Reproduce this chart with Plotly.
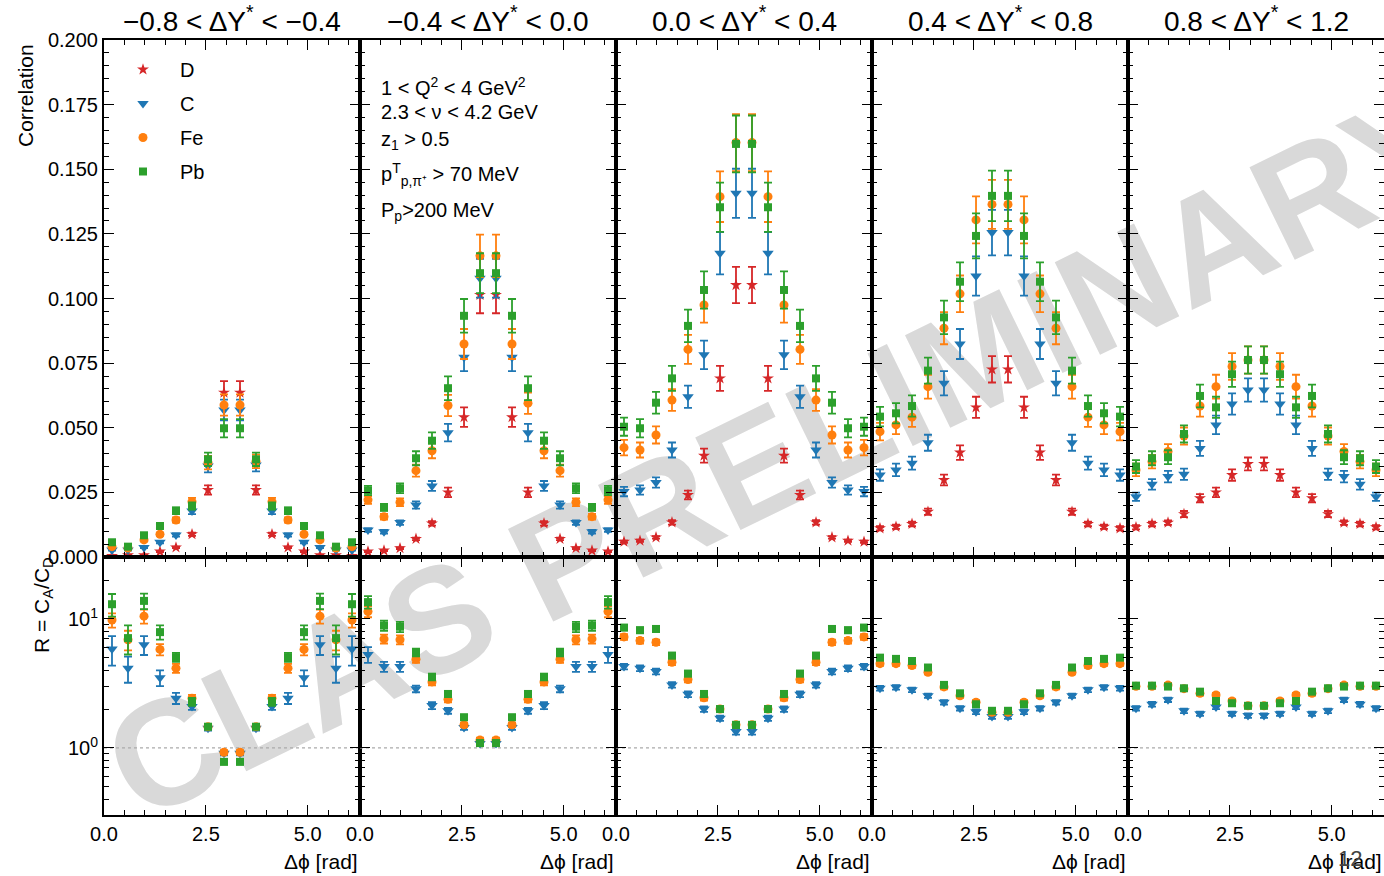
import plotly.graph_objects as go
from plotly.subplots import make_subplots

# ---------------- data ----------------
# bin centres of delta-phi (16 bins over 0..2pi)
PHI = [0.196, 0.589, 0.982, 1.374, 1.767, 2.160, 2.553, 2.945,
       3.338, 3.731, 4.123, 4.516, 4.909, 5.301, 5.694, 6.087]

DY_TITLES = ["−0.8 < ΔY<sup>*</sup> < −0.4", "−0.4 < ΔY<sup>*</sup> < 0.0",
             "0.0 < ΔY<sup>*</sup> < 0.4", "0.4 < ΔY<sup>*</sup> < 0.8",
             "0.8 < ΔY<sup>*</sup> < 1.2"]

SERIES = ["D", "C", "Fe", "Pb"]

# ---- correlation, column 1 ----
corr_D_1 = [0.0004, 0.0007, 0.0007, 0.0021, 0.0037, 0.0088, 0.0259, 0.0636, 0.0636, 0.0259, 0.0088, 0.0037, 0.0021, 0.0007, 0.0007, 0.0004]
corr_C_1 = [0.0027, 0.0027, 0.0037, 0.0057, 0.0085, 0.0178, 0.0352, 0.0569, 0.0569, 0.0356, 0.0178, 0.0085, 0.0057, 0.0037, 0.0027, 0.0027]
corr_Fe_1 = [0.0040, 0.0035, 0.0066, 0.0088, 0.0143, 0.0214, 0.0365, 0.0588, 0.0588, 0.0370, 0.0214, 0.0143, 0.0088, 0.0066, 0.0035, 0.0040]
corr_Pb_1 = [0.0057, 0.0040, 0.0084, 0.0120, 0.0179, 0.0197, 0.0378, 0.0498, 0.0498, 0.0378, 0.0197, 0.0179, 0.0120, 0.0084, 0.0040, 0.0057]
err_D_1 = [0.0001, 0.0001, 0.0001, 0.0002, 0.0003, 0.0006, 0.0018, 0.0044, 0.0044, 0.0018, 0.0006, 0.0003, 0.0002, 0.0001, 0.0001, 0.0001]
err_C_1 = [0.0002, 0.0002, 0.0003, 0.0004, 0.0006, 0.0012, 0.0025, 0.0040, 0.0040, 0.0025, 0.0012, 0.0006, 0.0004, 0.0003, 0.0002, 0.0002]
err_Fe_1 = [0.0003, 0.0003, 0.0005, 0.0006, 0.0010, 0.0015, 0.0026, 0.0041, 0.0041, 0.0026, 0.0015, 0.0010, 0.0006, 0.0005, 0.0003, 0.0003]
err_Pb_1 = [0.0004, 0.0003, 0.0006, 0.0008, 0.0013, 0.0014, 0.0026, 0.0035, 0.0035, 0.0026, 0.0014, 0.0013, 0.0008, 0.0006, 0.0003, 0.0004]

# ---- correlation, column 2 ----
corr_D_2 = [0.0021, 0.0025, 0.0034, 0.0070, 0.0130, 0.0250, 0.0541, 0.1014, 0.1014, 0.0541, 0.0250, 0.0130, 0.0070, 0.0034, 0.0025, 0.0021]
corr_C_2 = [0.0104, 0.0098, 0.0133, 0.0201, 0.0275, 0.0481, 0.0773, 0.1078, 0.1078, 0.0773, 0.0481, 0.0275, 0.0201, 0.0133, 0.0098, 0.0104]
corr_Fe_2 = [0.0221, 0.0156, 0.0212, 0.0334, 0.0411, 0.0586, 0.0824, 0.1165, 0.1165, 0.0824, 0.0595, 0.0411, 0.0334, 0.0212, 0.0156, 0.0221]
corr_Pb_2 = [0.0257, 0.0192, 0.0266, 0.0382, 0.0450, 0.0653, 0.0933, 0.1098, 0.1098, 0.0933, 0.0653, 0.0450, 0.0382, 0.0266, 0.0192, 0.0257]
err_D_2 = [0.0002, 0.0002, 0.0003, 0.0005, 0.0009, 0.0018, 0.0038, 0.0071, 0.0071, 0.0038, 0.0018, 0.0009, 0.0005, 0.0003, 0.0002, 0.0002]
err_C_2 = [0.0007, 0.0007, 0.0009, 0.0014, 0.0019, 0.0034, 0.0054, 0.0075, 0.0075, 0.0054, 0.0034, 0.0019, 0.0014, 0.0009, 0.0007, 0.0007]
err_Fe_2 = [0.0015, 0.0011, 0.0015, 0.0023, 0.0029, 0.0041, 0.0058, 0.0082, 0.0082, 0.0058, 0.0041, 0.0029, 0.0023, 0.0015, 0.0011, 0.0015]
err_Pb_2 = [0.0018, 0.0013, 0.0019, 0.0027, 0.0032, 0.0046, 0.0065, 0.0077, 0.0077, 0.0065, 0.0046, 0.0032, 0.0027, 0.0019, 0.0013, 0.0018]

# ---- correlation, column 3 ----
corr_D_3 = [0.0059, 0.0063, 0.0076, 0.0134, 0.0240, 0.0392, 0.0691, 0.1052, 0.1052, 0.0691, 0.0392, 0.0240, 0.0134, 0.0076, 0.0063, 0.0059]
corr_C_3 = [0.0253, 0.0259, 0.0288, 0.0414, 0.0620, 0.0782, 0.1175, 0.1407, 0.1407, 0.1175, 0.0782, 0.0620, 0.0414, 0.0288, 0.0259, 0.0253]
corr_Fe_3 = [0.0423, 0.0414, 0.0472, 0.0607, 0.0803, 0.0975, 0.1394, 0.1603, 0.1603, 0.1394, 0.0975, 0.0803, 0.0607, 0.0472, 0.0414, 0.0423]
corr_Pb_3 = [0.0504, 0.0498, 0.0597, 0.0691, 0.0894, 0.1033, 0.1353, 0.1598, 0.1598, 0.1353, 0.1033, 0.0894, 0.0691, 0.0597, 0.0498, 0.0504]
err_D_3 = [0.0004, 0.0004, 0.0005, 0.0009, 0.0017, 0.0027, 0.0048, 0.0070, 0.0070, 0.0048, 0.0027, 0.0017, 0.0009, 0.0005, 0.0004, 0.0004]
err_C_3 = [0.0018, 0.0018, 0.0020, 0.0029, 0.0043, 0.0055, 0.0082, 0.0095, 0.0095, 0.0082, 0.0055, 0.0043, 0.0029, 0.0020, 0.0018, 0.0018]
err_Fe_3 = [0.0030, 0.0029, 0.0033, 0.0042, 0.0056, 0.0068, 0.0098, 0.0110, 0.0110, 0.0098, 0.0068, 0.0056, 0.0042, 0.0033, 0.0029, 0.0030]
err_Pb_3 = [0.0035, 0.0035, 0.0042, 0.0048, 0.0063, 0.0072, 0.0095, 0.0110, 0.0110, 0.0095, 0.0072, 0.0063, 0.0048, 0.0042, 0.0035, 0.0035]

# ---- correlation, column 4 ----
corr_D_4 = [0.0111, 0.0117, 0.0128, 0.0175, 0.0298, 0.0404, 0.0579, 0.0726, 0.0726, 0.0579, 0.0404, 0.0298, 0.0175, 0.0128, 0.0117, 0.0111]
corr_C_4 = [0.0317, 0.0337, 0.0363, 0.0442, 0.0672, 0.0824, 0.1087, 0.1255, 0.1255, 0.1087, 0.0824, 0.0672, 0.0442, 0.0363, 0.0337, 0.0317]
corr_Fe_4 = [0.0485, 0.0511, 0.0541, 0.0659, 0.0885, 0.1018, 0.1304, 0.1364, 0.1364, 0.1304, 0.1018, 0.0885, 0.0659, 0.0541, 0.0511, 0.0485]
corr_Pb_4 = [0.0543, 0.0556, 0.0584, 0.0721, 0.0927, 0.1065, 0.1242, 0.1397, 0.1397, 0.1242, 0.1065, 0.0927, 0.0721, 0.0584, 0.0556, 0.0543]
err_D_4 = [0.0008, 0.0008, 0.0009, 0.0012, 0.0021, 0.0028, 0.0041, 0.0051, 0.0051, 0.0041, 0.0028, 0.0021, 0.0012, 0.0009, 0.0008, 0.0008]
err_C_4 = [0.0022, 0.0024, 0.0025, 0.0031, 0.0047, 0.0058, 0.0076, 0.0088, 0.0088, 0.0076, 0.0058, 0.0047, 0.0031, 0.0025, 0.0024, 0.0022]
err_Fe_4 = [0.0034, 0.0036, 0.0038, 0.0046, 0.0062, 0.0071, 0.0091, 0.0095, 0.0095, 0.0091, 0.0071, 0.0062, 0.0046, 0.0038, 0.0036, 0.0034]
err_Pb_4 = [0.0038, 0.0039, 0.0041, 0.0050, 0.0065, 0.0075, 0.0087, 0.0098, 0.0098, 0.0087, 0.0075, 0.0065, 0.0050, 0.0041, 0.0039, 0.0038]

# ---- correlation, column 5 ----
corr_D_5 = [0.0115, 0.0128, 0.0133, 0.0166, 0.0227, 0.0250, 0.0317, 0.0360, 0.0360, 0.0317, 0.0250, 0.0227, 0.0166, 0.0133, 0.0128, 0.0115]
corr_C_5 = [0.0233, 0.0281, 0.0311, 0.0320, 0.0420, 0.0511, 0.0592, 0.0646, 0.0646, 0.0592, 0.0511, 0.0420, 0.0320, 0.0311, 0.0281, 0.0233]
corr_Fe_5 = [0.0337, 0.0369, 0.0408, 0.0468, 0.0584, 0.0659, 0.0737, 0.0762, 0.0762, 0.0737, 0.0659, 0.0584, 0.0468, 0.0408, 0.0369, 0.0337]
corr_Pb_5 = [0.0350, 0.0382, 0.0386, 0.0476, 0.0623, 0.0579, 0.0707, 0.0762, 0.0762, 0.0707, 0.0579, 0.0623, 0.0476, 0.0386, 0.0382, 0.0350]
err_D_5 = [0.0008, 0.0009, 0.0009, 0.0012, 0.0016, 0.0018, 0.0022, 0.0025, 0.0025, 0.0022, 0.0018, 0.0016, 0.0012, 0.0009, 0.0009, 0.0008]
err_C_5 = [0.0016, 0.0020, 0.0022, 0.0022, 0.0029, 0.0036, 0.0041, 0.0045, 0.0045, 0.0041, 0.0036, 0.0029, 0.0022, 0.0022, 0.0020, 0.0016]
err_Fe_5 = [0.0024, 0.0026, 0.0029, 0.0033, 0.0041, 0.0046, 0.0052, 0.0053, 0.0053, 0.0052, 0.0046, 0.0041, 0.0033, 0.0029, 0.0026, 0.0024]
err_Pb_5 = [0.0025, 0.0027, 0.0027, 0.0033, 0.0044, 0.0041, 0.0049, 0.0053, 0.0053, 0.0049, 0.0041, 0.0044, 0.0033, 0.0027, 0.0027, 0.0025]

# ---- ratio R = C_A / C_D ----
ratio_C_1 = [5.85, 4.15, 6.3, 3.5, 2.43, 2.09, 1.42, 0.91, 0.91, 1.42, 2.09, 2.43, 3.5, 6.3, 4.15, 5.85]
ratio_Fe_1 = [9.8, 6.9, 10.5, 5.8, 4.15, 2.43, 1.46, 0.925, 0.925, 1.46, 2.43, 4.15, 5.8, 10.5, 6.9, 9.8]
ratio_Pb_1 = [13.0, 7.1, 13.8, 7.9, 5.05, 2.28, 1.46, 0.78, 0.78, 1.46, 2.28, 5.05, 7.9, 13.8, 7.1, 13.0]
rerr_C_1 = [1.5, 0.95, 1.05, 0.49, 0.24, 0.12, 0.06, 0.035, 0.035, 0.06, 0.12, 0.24, 0.49, 1.05, 0.95, 1.5]
rerr_Fe_1 = [1.25, 1.2, 1.3, 0.58, 0.33, 0.15, 0.06, 0.035, 0.035, 0.06, 0.15, 0.33, 0.58, 1.3, 1.2, 1.25]
rerr_Pb_1 = [2.6, 1.8, 1.9, 1.0, 0.4, 0.16, 0.06, 0.035, 0.035, 0.06, 0.16, 0.4, 1.0, 1.9, 1.8, 2.6]

ratio_C_2 = [5.3, 4.27, 4.27, 2.87, 2.13, 1.94, 1.44, 1.08, 1.08, 1.44, 1.94, 2.13, 2.87, 4.27, 4.27, 5.3]
ratio_Fe_2 = [11.4, 7.0, 6.9, 4.87, 3.25, 2.38, 1.51, 1.15, 1.15, 1.51, 2.38, 3.25, 4.87, 6.9, 7.0, 11.4]
ratio_Pb_2 = [13.5, 8.9, 8.7, 5.5, 3.55, 2.62, 1.73, 1.09, 1.09, 1.73, 2.62, 3.55, 5.5, 8.7, 8.9, 13.5]
rerr_C_2 = [0.74, 0.38, 0.38, 0.17, 0.13, 0.1, 0.06, 0.04, 0.04, 0.06, 0.1, 0.13, 0.17, 0.38, 0.38, 0.74]
rerr_Fe_2 = [1.1, 0.55, 0.55, 0.3, 0.19, 0.12, 0.06, 0.05, 0.05, 0.06, 0.12, 0.19, 0.3, 0.55, 0.55, 1.1]
rerr_Pb_2 = [1.5, 0.8, 0.8, 0.38, 0.21, 0.13, 0.07, 0.05, 0.05, 0.07, 0.13, 0.21, 0.38, 0.8, 0.8, 1.5]

ratio_C_3 = [4.27, 4.15, 3.91, 3.08, 2.61, 2.0, 1.70, 1.34, 1.34, 1.70, 2.0, 2.61, 3.08, 3.91, 4.15, 4.27]
ratio_Fe_3 = [7.25, 6.79, 6.59, 4.61, 3.39, 2.45, 2.0, 1.51, 1.51, 2.0, 2.45, 3.39, 4.61, 6.59, 6.79, 7.25]
ratio_Pb_3 = [8.57, 8.17, 8.36, 5.2, 3.77, 2.62, 2.0, 1.51, 1.51, 2.0, 2.62, 3.77, 5.2, 8.36, 8.17, 8.57]
rerr_C_3 = [0.21, 0.21, 0.2, 0.15, 0.13, 0.1, 0.08, 0.07, 0.07, 0.08, 0.1, 0.13, 0.15, 0.2, 0.21, 0.21]
rerr_Fe_3 = [0.36, 0.34, 0.33, 0.23, 0.17, 0.12, 0.1, 0.08, 0.08, 0.1, 0.12, 0.17, 0.23, 0.33, 0.34, 0.36]
rerr_Pb_3 = [0.43, 0.41, 0.42, 0.26, 0.19, 0.13, 0.1, 0.08, 0.08, 0.1, 0.13, 0.19, 0.26, 0.42, 0.41, 0.43]

ratio_C_4 = [2.9, 2.95, 2.82, 2.54, 2.26, 2.03, 1.91, 1.75, 1.75, 1.91, 2.03, 2.26, 2.54, 2.82, 2.95, 2.9]
ratio_Fe_4 = [4.5, 4.5, 4.35, 3.86, 2.97, 2.54, 2.26, 1.89, 1.89, 2.26, 2.54, 2.97, 3.86, 4.35, 4.5, 4.5]
ratio_Pb_4 = [5.01, 4.9, 4.72, 4.2, 3.08, 2.65, 2.18, 1.94, 1.94, 2.18, 2.65, 3.08, 4.2, 4.72, 4.9, 5.01]
rerr_C_4 = [0.12, 0.12, 0.11, 0.1, 0.09, 0.08, 0.08, 0.07, 0.07, 0.08, 0.08, 0.09, 0.1, 0.11, 0.12, 0.12]
rerr_Fe_4 = [0.18, 0.18, 0.17, 0.15, 0.12, 0.1, 0.09, 0.08, 0.08, 0.09, 0.1, 0.12, 0.15, 0.17, 0.18, 0.18]
rerr_Pb_4 = [0.2, 0.2, 0.19, 0.17, 0.12, 0.11, 0.09, 0.08, 0.08, 0.09, 0.11, 0.12, 0.17, 0.19, 0.2, 0.2]

ratio_C_5 = [2.03, 2.18, 2.36, 1.94, 1.84, 2.08, 1.84, 1.78, 1.78, 1.84, 2.08, 1.84, 1.94, 2.36, 2.18, 2.03]
ratio_Fe_5 = [3.0, 3.0, 3.07, 2.88, 2.65, 2.57, 2.31, 2.12, 2.12, 2.31, 2.57, 2.65, 2.88, 3.07, 3.0, 3.0]
ratio_Pb_5 = [3.04, 3.04, 2.99, 2.9, 2.73, 2.31, 2.22, 2.12, 2.12, 2.22, 2.31, 2.73, 2.9, 2.99, 3.04, 3.04]
rerr_C_5 = [0.08, 0.09, 0.09, 0.08, 0.07, 0.08, 0.07, 0.07, 0.07, 0.07, 0.08, 0.07, 0.08, 0.09, 0.09, 0.08]
rerr_Fe_5 = [0.12, 0.12, 0.12, 0.11, 0.1, 0.1, 0.09, 0.08, 0.08, 0.09, 0.1, 0.1, 0.11, 0.12, 0.12, 0.12]
rerr_Pb_5 = [0.12, 0.12, 0.12, 0.11, 0.1, 0.09, 0.09, 0.08, 0.08, 0.09, 0.09, 0.1, 0.11, 0.12, 0.12, 0.12]

CORR = {
    "D": [corr_D_1, corr_D_2, corr_D_3, corr_D_4, corr_D_5],
    "C": [corr_C_1, corr_C_2, corr_C_3, corr_C_4, corr_C_5],
    "Fe": [corr_Fe_1, corr_Fe_2, corr_Fe_3, corr_Fe_4, corr_Fe_5],
    "Pb": [corr_Pb_1, corr_Pb_2, corr_Pb_3, corr_Pb_4, corr_Pb_5],
}
CORR_ERR = {
    "D": [err_D_1, err_D_2, err_D_3, err_D_4, err_D_5],
    "C": [err_C_1, err_C_2, err_C_3, err_C_4, err_C_5],
    "Fe": [err_Fe_1, err_Fe_2, err_Fe_3, err_Fe_4, err_Fe_5],
    "Pb": [err_Pb_1, err_Pb_2, err_Pb_3, err_Pb_4, err_Pb_5],
}
RATIO = {
    "C": [ratio_C_1, ratio_C_2, ratio_C_3, ratio_C_4, ratio_C_5],
    "Fe": [ratio_Fe_1, ratio_Fe_2, ratio_Fe_3, ratio_Fe_4, ratio_Fe_5],
    "Pb": [ratio_Pb_1, ratio_Pb_2, ratio_Pb_3, ratio_Pb_4, ratio_Pb_5],
}
RATIO_ERR = {
    "C": [rerr_C_1, rerr_C_2, rerr_C_3, rerr_C_4, rerr_C_5],
    "Fe": [rerr_Fe_1, rerr_Fe_2, rerr_Fe_3, rerr_Fe_4, rerr_Fe_5],
    "Pb": [rerr_Pb_1, rerr_Pb_2, rerr_Pb_3, rerr_Pb_4, rerr_Pb_5],
}

INFO_LINES = ["1 < Q<sup>2</sup> < 4 GeV<sup>2</sup>", "2.3 < ν < 4.2 GeV", "z<sub>1</sub> > 0.5",
              "p<sup>T</sup><sub>p,π⁺</sub> > 70 MeV", "P<sub>p</sub>>200 MeV"]

# ---------------- style ----------------
W, H = 1384, 876
FONT = "Liberation Sans, Arial, Helvetica, sans-serif"
COLORS = {"D": "#d62728", "C": "#1f77b4", "Fe": "#ff7f0e", "Pb": "#2ca02c"}
SYMBOLS = {"D": "star", "C": "triangle-down", "Fe": "circle", "Pb": "square"}
MSIZE = {"D": 9, "C": 10, "Fe": 9, "Pb": 8}

LEFT, COLW = 104, 256
TOP0, MID, BOT = 40, 557, 815
TWO_PI = 6.283185307


def fx(p):
    return p / W


def fy(p):
    return 1 - p / H


fig = make_subplots(rows=2, cols=5)

for c in range(5):
    # dotted reference line at R = 1
    fig.add_trace(go.Scatter(x=[0, TWO_PI], y=[1, 1], mode="lines",
                             line=dict(color="#aaaaaa", width=1.2, dash="dot"),
                             showlegend=False, hoverinfo="skip"), row=2, col=c + 1)
    for s in SERIES:
        fig.add_trace(go.Scatter(
            x=PHI, y=CORR[s][c], mode="markers", name=s,
            legendgroup=s, showlegend=(c == 0),
            marker=dict(color=COLORS[s], symbol=SYMBOLS[s], size=MSIZE[s], line=dict(width=0)),
            error_y=dict(type="data", array=CORR_ERR[s][c], color=COLORS[s], thickness=1.8, width=4),
        ), row=1, col=c + 1)
    for s in ["C", "Fe", "Pb"]:
        fig.add_trace(go.Scatter(
            x=PHI, y=RATIO[s][c], mode="markers", name=s,
            legendgroup=s, showlegend=False,
            marker=dict(color=COLORS[s], symbol=SYMBOLS[s], size=MSIZE[s], line=dict(width=0)),
            error_y=dict(type="data", array=RATIO_ERR[s][c], color=COLORS[s], thickness=1.8, width=4),
        ), row=2, col=c + 1)

common = dict(showline=True, linecolor="black", linewidth=2, mirror="allticks",
              ticks="inside", ticklen=10, tickwidth=1.3, tickcolor="black",
              showgrid=False, zeroline=False, automargin=False,
              tickfont=dict(family=FONT, size=20, color="black"))

for c in range(5):
    x0 = fx(LEFT + c * COLW)
    x1 = min(1.0, fx(LEFT + (c + 1) * COLW))
    for r in range(2):
        idx = r * 5 + c + 1
        xn = "xaxis" if idx == 1 else f"xaxis{idx}"
        yn = "yaxis" if idx == 1 else f"yaxis{idx}"
        xa = dict(common)
        xa.update(domain=[x0, x1], range=[0, TWO_PI], tick0=0, dtick=2.5, tickformat=".1f",
                  showticklabels=(r == 1),
                  minor=dict(ticks="inside", ticklen=5, tickwidth=1, tickcolor="black", dtick=0.5, tick0=0))
        ya = dict(common)
        if r == 0:
            ya.update(domain=[fy(MID), fy(TOP0)], range=[0, 0.2], tick0=0, dtick=0.025,
                      tickformat=".3f", showticklabels=(c == 0),
                      minor=dict(ticks="inside", ticklen=5, tickwidth=1, tickcolor="black",
                                 dtick=0.005, tick0=0))
        else:
            ya.update(domain=[fy(BOT), fy(MID)], type="log", range=[-0.52, 1.48],
                      tickmode="array", tickvals=[1, 10],
                      ticktext=["10<sup>0</sup>", "10<sup>1</sup>"], showticklabels=(c == 0),
                      minor=dict(ticks="inside", ticklen=5, tickwidth=1, tickcolor="black",
                                 tickmode="array",
                                 tickvals=[0.3, 0.4, 0.5, 0.6, 0.7, 0.8, 0.9, 2, 3, 4, 5, 6, 7, 8, 9, 20, 30]))
        fig.layout[xn].update(xa)
        fig.layout[yn].update(ya)

annotations = []
for c in range(5):
    annotations.append(dict(text=DY_TITLES[c], x=fx(LEFT + c * COLW + COLW / 2), y=fy(19),
                            xref="paper", yref="paper", showarrow=False,
                            xanchor="center", yanchor="middle",
                            font=dict(family=FONT, size=28, color="black")))
    annotations.append(dict(text="Δϕ [rad]", x=min(1.0, fx(LEFT + (c + 1) * COLW)), y=fy(861),
                            xref="paper", yref="paper", showarrow=False,
                            xanchor="right", yanchor="middle",
                            font=dict(family=FONT, size=21, color="black")))

annotations.append(dict(text="Correlation", textangle=-90, x=fx(25), y=fy(96),
                        xref="paper", yref="paper", showarrow=False,
                        xanchor="center", yanchor="middle",
                        font=dict(family=FONT, size=21, color="black")))
annotations.append(dict(text="R = C<sub>A</sub>/C<sub>D</sub>", textangle=-90, x=fx(43), y=fy(605),
                        xref="paper", yref="paper", showarrow=False,
                        xanchor="center", yanchor="middle",
                        font=dict(family=FONT, size=21, color="black")))

info_y = [86, 112, 141, 175, 211]
for txt, yy in zip(INFO_LINES, info_y):
    annotations.append(dict(text=txt, x=fx(379), y=fy(yy), xref="paper", yref="paper",
                            showarrow=False, xanchor="left", yanchor="middle",
                            font=dict(family=FONT, size=20, color="black")))

annotations.append(dict(text="12", x=fx(1350), y=fy(858), xref="paper", yref="paper",
                        showarrow=False, xanchor="center", yanchor="middle",
                        font=dict(family=FONT, size=22, color="#444444")))

fig.update_layout(
    width=W, height=H, margin=dict(l=0, r=0, t=0, b=0, autoexpand=False),
    paper_bgcolor="white", plot_bgcolor="rgba(0,0,0,0)",
    font=dict(family=FONT, size=20, color="black"),
    annotations=annotations,
    shapes=[dict(type="rect", xref="paper", yref="paper",
                 x0=fx(180), x1=fx(1370), y0=fy(800), y1=fy(80),
                 line=dict(width=0), fillcolor="rgba(0,0,0,0)", layer="below",
                 label=dict(text="CLAS PRELIMINARY", textangle=-26, textposition="middle center",
                            font=dict(family=FONT, size=150, color="#d9d9d9", weight="bold")))],
    legend=dict(x=fx(106), y=fy(50), xanchor="left", yanchor="top",
                bgcolor="rgba(0,0,0,0)", font=dict(family=FONT, size=20, color="black"),
                tracegroupgap=5, itemclick=False, itemwidth=64),
    showlegend=True,
)

fig.write_html("out.html")
